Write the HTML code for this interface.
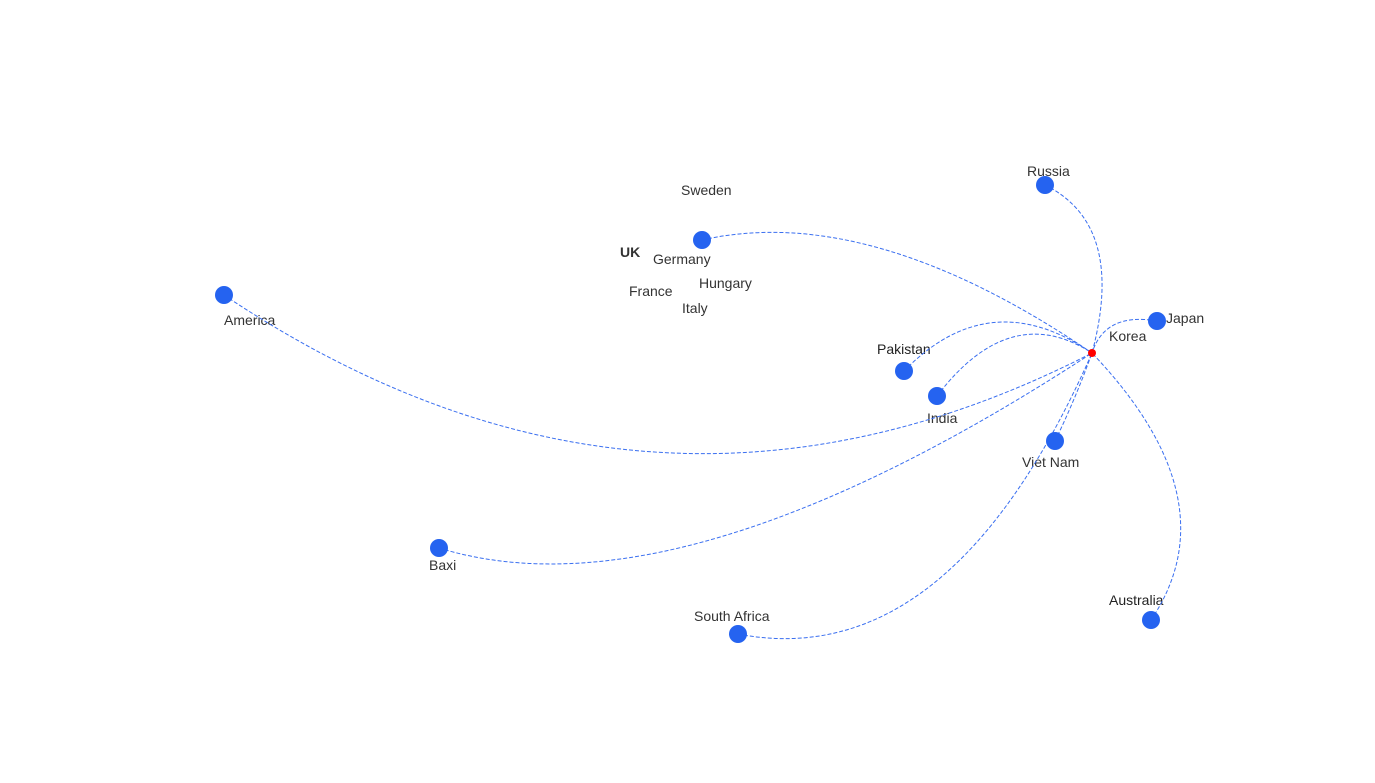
<!DOCTYPE html>
<html><head><meta charset="utf-8"><style>
html,body{margin:0;padding:0;background:#fff;}
svg{display:block;}
text{font-family:"Liberation Sans",sans-serif;font-size:14px;fill:#333;}
</style></head><body>
<svg width="1375" height="783" viewBox="0 0 1375 783" xmlns="http://www.w3.org/2000/svg">
<g font-size="14">
<text x="681" y="195">Sweden</text>
<text x="620" y="257" font-weight="bold">UK</text>
<text x="653" y="264">Germany</text>
<text x="699" y="288">Hungary</text>
<text x="629" y="296">France</text>
<text x="682" y="313">Italy</text>
<text x="1027" y="176">Russia</text>
<text x="224" y="325">America</text>
<text x="1166" y="323">Japan</text>
<text x="1109" y="341">Korea</text>
<text x="877" y="354" style="fill:#222">Pakistan</text>
<text x="927" y="423">India</text>
<text x="1022" y="467">Viet Nam</text>
<text x="429" y="570">Baxi</text>
<text x="694" y="621">South Africa</text>
<text x="1109" y="605" style="fill:#222">Australia</text>
</g>
<g fill="none" stroke="#3a6ff0" stroke-width="1" stroke-dasharray="4,2">
<path d="M702,240 Q870,202 1092,353"/>
<path d="M1045,185 Q1126,225 1092,353"/>
<path d="M1157,321 Q1105,312 1092,353"/>
<path d="M904,371 Q990,283 1092,353"/>
<path d="M937,396 Q1010,300 1092,353"/>
<path d="M224,295 Q650,580 1092,353"/>
<path d="M439,548 Q680,622 1092,353"/>
<path d="M1055,441 Q1075,400 1092,353"/>
<path d="M738,634 Q950,675 1092,353"/>
<path d="M1151,620 Q1232,500 1092,353"/>
</g>
<g fill="#2563f0">
<circle cx="702" cy="240" r="9"/>
<circle cx="1045" cy="185" r="9"/>
<circle cx="224" cy="295" r="9"/>
<circle cx="1157" cy="321" r="9"/>
<circle cx="904" cy="371" r="9"/>
<circle cx="937" cy="396" r="9"/>
<circle cx="1055" cy="441" r="9"/>
<circle cx="439" cy="548" r="9"/>
<circle cx="738" cy="634" r="9"/>
<circle cx="1151" cy="620" r="9"/>
</g>
<circle cx="1092" cy="353" r="4" fill="#f00"/>
</svg>
</body></html>
